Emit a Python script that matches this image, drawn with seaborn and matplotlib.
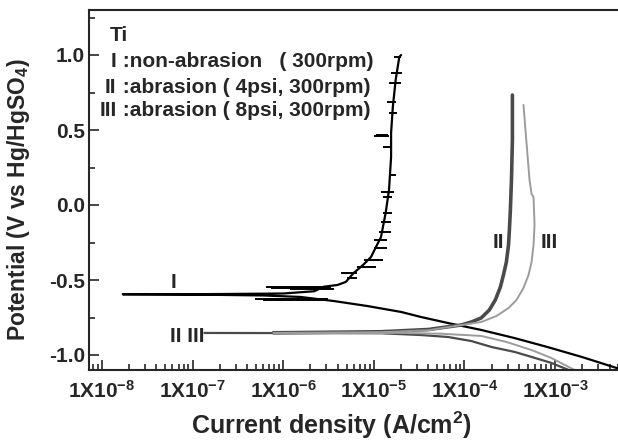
import numpy as np
import pandas as pd
import matplotlib
matplotlib.use('Agg')
import matplotlib.pyplot as plt
import matplotlib.ticker as mticker
import seaborn as sns

# curve I: non-abrasion, scan from cathodic end through Ecorr to the anodic end
i_1 = [5.6e-3, 1.97e-3, 8.26e-4, 3.56e-4, 1.53e-4, 6.6e-5, 3.33e-5, 2.0e-5, 8.4e-6, 3.6e-6,
       1.55e-6, 6.0e-7, 1.0e-7, 1.7e-8,
       1.0e-7, 1.0e-6, 2.2e-6, 2.8e-6, 3.98e-6, 4.9e-6, 6.0e-6, 7.6e-6, 9.3e-6, 1.07e-5,
       1.2e-5, 1.35e-5, 1.47e-5, 1.55e-5, 1.55e-5, 1.62e-5, 1.74e-5, 1.91e-5, 2.0e-5]
e_1 = [-1.10, -1.013, -0.947, -0.887, -0.833, -0.787, -0.747, -0.713, -0.673, -0.64,
       -0.613, -0.603, -0.597, -0.595,
       -0.595, -0.59, -0.575, -0.545, -0.533, -0.513, -0.453, -0.40, -0.347, -0.273,
       -0.213, -0.053, 0.10, 0.32, 0.48, 0.653, 0.833, 0.987, 1.0]

# noise spikes on curve I (potential, low current, high current)
spike_e = [-0.489, -0.455, -0.411, -0.367, -0.289, -0.233, -0.178, -0.111, -0.056, 0.055,
           0.089, 0.20, 0.389, 0.460, 0.470, 0.611, 0.689, 0.811, 0.878, 0.989,
           -0.545, -0.552, -0.558, -0.625, -0.633]
spike_lo = [5.1e-6, 4.3e-6, 6.6e-6, 7.8e-6, 1.0e-5, 1.0e-5, 1.15e-5, 1.2e-5, 1.26e-5, 1.26e-5,
            1.2e-5, 1.48e-5, 1.26e-5, 1.0e-5, 1.05e-5, 1.48e-5, 1.41e-5, 1.48e-5, 1.55e-5, 1.68e-5,
            6.4e-7, 7.3e-7, 1.2e-6, 4.9e-7, 6.0e-7]
spike_hi = [6.6e-6, 6.6e-6, 1.05e-5, 1.26e-5, 1.41e-5, 1.41e-5, 1.55e-5, 1.55e-5, 1.6e-5, 1.6e-5,
            1.68e-5, 1.76e-5, 1.6e-5, 1.48e-5, 1.45e-5, 1.8e-5, 1.76e-5, 2.0e-5, 2.05e-5, 2.0e-5,
            3.1e-6, 3.4e-6, 3.6e-6, 3.1e-6, 3.0e-6]

# curve II: abrasion 4 psi (cathodic branch, anodic branch)
i_2c = [1.6e-3, 1.41e-3, 9.1e-4, 5.5e-4, 3.6e-4, 2.0e-4, 1.19e-4, 6.6e-5, 3.33e-5, 1.2e-5, 1.35e-7]
e_2c = [-1.11, -1.10, -1.053, -1.013, -0.98, -0.947, -0.907, -0.88, -0.867, -0.855, -0.853]
i_2a = [7.8e-7, 1.2e-5, 4.0e-5, 9.2e-5, 1.19e-4, 1.53e-4, 1.88e-4, 2.19e-4, 2.49e-4, 2.69e-4,
        2.9e-4, 3.06e-4, 3.13e-4, 3.21e-4, 3.30e-4, 3.38e-4, 3.38e-4]
e_2a = [-0.852, -0.845, -0.83, -0.80, -0.78, -0.753, -0.70, -0.633, -0.547, -0.467,
        -0.38, -0.267, -0.167, -0.033, 0.167, 0.433, 0.733]

# curve III: abrasion 8 psi
i_3 = [1.8e-3, 1.64e-3, 9.1e-4, 5.5e-4, 2.9e-4, 1.53e-4, 5.5e-5, 2.0e-5, 7.8e-7,
       1.2e-5, 4.0e-5, 9.2e-5, 1.53e-4, 2.25e-4, 3.06e-4, 3.75e-4, 4.48e-4, 5.09e-4, 5.5e-4,
       5.78e-4, 5.93e-4, 5.78e-4, 5.5e-4, 5.22e-4, 4.96e-4, 4.71e-4, 4.48e-4]
e_3 = [-1.11, -1.10, -1.02, -0.967, -0.913, -0.873, -0.858, -0.853, -0.853,
       -0.848, -0.835, -0.80, -0.78, -0.74, -0.687, -0.633, -0.553, -0.467, -0.38,
       -0.267, -0.133, 0.053, 0.073, 0.167, 0.333, 0.50, 0.667]

legend_nums = ['I', 'II', 'III']
legend_text = [' :non-abrasion   ( 300rpm)', ' :abrasion ( 4psi, 300rpm)', ' :abrasion ( 8psi, 300rpm)']

x_ticks = [1e-8, 1e-7, 1e-6, 1e-5, 1e-4, 1e-3]
y_ticks = [-1.0, -0.5, 0.0, 0.5, 1.0]

sns.set_style('ticks')
plt.rcParams['font.family'] = ['Liberation Sans', 'DejaVu Sans']
plt.rcParams['font.weight'] = 'bold'
plt.rcParams['axes.unicode_minus'] = False
plt.rcParams['mathtext.fontset'] = 'custom'
plt.rcParams['mathtext.rm'] = 'Liberation Sans:bold'
plt.rcParams['mathtext.it'] = 'Liberation Sans:bold'
plt.rcParams['mathtext.bf'] = 'Liberation Sans:bold'
plt.rcParams['mathtext.default'] = 'rm'

curves = [
    (pd.DataFrame({'current': i_1, 'potential': e_1}), '#000000', 1.6),
    (pd.DataFrame({'current': i_2c, 'potential': e_2c}), '#4a4a4a', 1.6),
    (pd.DataFrame({'current': i_2a, 'potential': e_2a}), '#4a4a4a', 2.6),
    (pd.DataFrame({'current': i_3, 'potential': e_3}), '#9c9c9c', 1.4),
]

fig = plt.figure(figsize=(6.18, 4.42), dpi=100)
ax = fig.add_axes([89 / 618, 72 / 442, 531 / 618, 360 / 442])

for d, color, lw in curves:
    sns.lineplot(data=d, x='current', y='potential', sort=False,
                 estimator=None, color=color, lw=lw, ax=ax)
ax.hlines(spike_e, spike_lo, spike_hi, color='black', lw=1.4)

ax.set_xscale('log')
ax.set_xlim(7.2e-9, 5.2e-3)
ax.set_ylim(-1.10, 1.30)
ax.xaxis.set_major_locator(mticker.FixedLocator(x_ticks))
ax.xaxis.set_minor_locator(mticker.LogLocator(base=10, subs=np.arange(2, 10), numticks=20))
ax.xaxis.set_major_formatter(mticker.FixedFormatter(
    ['1X10$^{%d}$' % int(np.log10(t)) for t in x_ticks]))
ax.xaxis.set_minor_formatter(mticker.NullFormatter())
ax.set_yticks(y_ticks)
ax.yaxis.set_minor_locator(mticker.MultipleLocator(0.25))
ax.yaxis.set_major_formatter(mticker.FormatStrFormatter('%.1f'))

ax.tick_params(which='both', direction='in', width=1.2, labelsize=15, top=False, right=False)
ax.tick_params(which='major', length=7)
ax.tick_params(which='minor', length=4)
ax.tick_params(axis='x', pad=7)
ax.tick_params(axis='y', pad=3)
for side in ['left', 'bottom', 'top', 'right']:
    ax.spines[side].set_linewidth(1.5)

ax.set_xlabel('Current density (A/cm$^2$)', fontsize=18, fontweight='bold')
ax.set_ylabel('Potential (V vs Hg/HgSO$_4$)', fontsize=16.5, fontweight='bold')
ax.xaxis.set_label_coords(0.457, -0.11)
ax.yaxis.set_label_coords(-0.108, 0.472)

ax.text(0.040, 0.928, 'Ti', transform=ax.transAxes, fontsize=15, fontweight='bold', ha='left', va='center')
for k, (num, txt) in enumerate(zip(legend_nums, legend_text)):
    yy = [0.856, 0.786, 0.722][k]
    ax.text(0.052, yy, num, transform=ax.transAxes, fontsize=15, fontweight='bold', ha='right', va='center')
    ax.text(0.052, yy, txt, transform=ax.transAxes, fontsize=15, fontweight='bold', ha='left', va='center')

ax.text(6.2e-8, -0.52, 'I', fontsize=15, fontweight='bold', ha='center', va='center')
ax.text(8.7e-8, -0.88, 'II III', fontsize=15, fontweight='bold', ha='center', va='center')
ax.text(2.35e-4, -0.247, 'II', fontsize=15, fontweight='bold', ha='center', va='center')
ax.text(8.7e-4, -0.253, 'III', fontsize=15, fontweight='bold', ha='center', va='center')

fig.savefig('out.png', dpi=100)
